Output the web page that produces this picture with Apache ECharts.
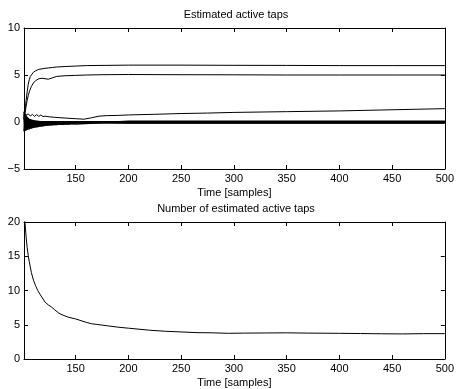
<!DOCTYPE html>
<html>
<head>
<meta charset="utf-8">
<script src="https://cdn.jsdelivr.net/npm/echarts@6/dist/echarts.min.js"></script>
<style>html,body{margin:0;padding:0;background:#fff;}#c{width:457px;height:389px;}</style>
</head>
<body>
<div id="c"></div>
<script>
// ---- tick labels ----
const xTicks = [150, 200, 250, 300, 350, 400, 450, 500];
const topTitle = 'Estimated active taps';
const bottomTitle = 'Number of estimated active taps';
const xName = 'Time [samples]';

// ---- top panel: estimated taps ----
const bigTapTimes = [101,102,103,104,105,106,107,108,110,112,115,118,120,124,128,132,140,150,160,175,200,250,300,350,400,450,500];
const tapSix  = [0.6,1.3,2.3,3.2,4.0,4.5,4.85,5.05,5.3,5.45,5.6,5.65,5.7,5.75,5.8,5.85,5.9,5.95,6.0,6.02,6.05,6.05,6.03,6.02,6.0,6.0,6.0];
const tapFive = [0.3,0.9,1.7,2.3,2.8,3.2,3.5,3.8,4.15,4.4,4.6,4.65,4.62,4.55,4.7,4.85,4.92,4.96,5.0,5.03,5.05,5.03,5.02,5.0,5.0,5.0,5.0];

const smallTapTimes = [101,103,105,107,109,111,113,115,117,119,121,125,130,140,150,158,165,172,180,190,200,225,250,275,300,350,400,450,500];
const tapOne = [0.85,0.75,0.85,0.65,0.8,0.6,0.78,0.6,0.75,0.58,0.62,0.55,0.5,0.42,0.35,0.3,0.45,0.62,0.68,0.7,0.75,0.82,0.9,0.95,1.02,1.1,1.18,1.3,1.42];

const oscTimes = [101,102,103,104,105,106,107,108,109,110,111,112,113,114,115,116,117,118,119,120,121,122,123,124,125,126,127,128,129,130,131,132,133,134,135,136,137,138,139,140,141,142,143,144,145,146,147,148,149,150,200,300,400,500];
const zeroTapA = [1.1,-0.95,0.7,-0.85,0.45,-0.78,0.3,-0.7,0.22,-0.64,0.18,-0.58,0.15,-0.54,0.12,-0.5,0.1,-0.46,0.1,-0.43,0.08,-0.4,0.08,-0.38,0.06,-0.36,0.06,-0.34,0.05,-0.32,0.05,-0.31,0.04,-0.3,0.04,-0.29,0.03,-0.28,0.03,-0.27,0.03,-0.26,0.02,-0.25,0.02,-0.24,0.02,-0.23,0.02,-0.22,0.07,0.07,0.07,0.07];
const zeroTapB = [-1.0,0.9,-0.9,0.55,-0.8,0.35,-0.72,0.25,-0.66,0.2,-0.6,0.15,-0.56,0.12,-0.52,0.1,-0.48,0.09,-0.45,0.08,-0.42,0.07,-0.39,0.06,-0.37,0.05,-0.35,0.05,-0.33,0.04,-0.32,0.04,-0.3,0.03,-0.29,0.03,-0.28,0.02,-0.27,0.02,-0.26,0.02,-0.25,0.01,-0.24,0.01,-0.23,0.01,-0.22,0.01,-0.1,-0.1,-0.1,-0.1];
const zeroTapC = [0.6,-0.7,0.4,-0.62,0.3,-0.55,0.2,-0.5,0.15,-0.46,0.12,-0.42,0.1,-0.4,0.08,-0.37,0.06,-0.35,0.05,-0.33,0.05,-0.31,0.04,-0.3,0.04,-0.28,0.03,-0.27,0.03,-0.26,0.02,-0.25,0.02,-0.24,0.01,-0.23,0.01,-0.22,0.0,-0.21,0.0,-0.2,0.0,-0.2,-0.01,-0.19,-0.01,-0.18,-0.02,-0.17,-0.04,-0.04,-0.04,-0.04];
const flatTimes = [101,150,200,300,400,500];
const zeroTapD = [0.02,0.02,0.02,0.02,0.02,0.02];
const zeroTapE = [-0.07,-0.07,-0.07,-0.07,-0.07,-0.07];

// ---- bottom panel: number of active taps ----
const numTimes = [101,102,103,104,105,106,108,110,112,114,116,118,121,124,127,130,134,138,143,150,155,160,165,170,180,190,200,210,220,235,250,265,280,295,310,330,350,370,400,420,440,460,480,500];
const numVals  = [20.8,19.8,17.8,16.3,15.1,14.2,12.6,11.5,10.7,10.0,9.5,9.0,8.3,7.9,7.6,7.2,6.7,6.4,6.1,5.85,5.6,5.35,5.15,5.05,4.85,4.65,4.5,4.35,4.2,4.05,3.95,3.85,3.82,3.75,3.78,3.8,3.82,3.78,3.75,3.72,3.68,3.66,3.7,3.7];

const zip = (t, v) => t.map((x, i) => [x, v[i]]);
const FONT = 'Liberation Sans, Arial, Helvetica, sans-serif';
const FS = 11;
const minus = v => String(v).replace('-', '\u2212');

function xAx(gi, pos) {
  const main = pos === 'bottom';
  return {
    type: 'value', gridIndex: gi, position: pos, min: 101, max: 500,
    axisLine: { show: true, onZero: false, lineStyle: { color: '#000', width: 1 } },
    axisTick: { show: true, inside: true, length: 4, customValues: xTicks, lineStyle: { color: '#000' } },
    axisLabel: { show: main, customValues: xTicks, margin: 4, color: '#000', fontSize: FS, fontFamily: FONT },
    splitLine: { show: false },
    name: main ? xName : '', nameLocation: 'middle', nameGap: 18,
    nameTextStyle: { color: '#000', fontSize: FS, fontFamily: FONT }
  };
}
function yAx(gi, pos, mn, mx) {
  const main = pos === 'left';
  return {
    type: 'value', gridIndex: gi, position: pos, min: mn, max: mx, interval: 5,
    axisLine: { show: true, onZero: false, lineStyle: { color: '#000', width: 1 } },
    axisTick: { show: true, inside: true, length: 4, lineStyle: { color: '#000' } },
    axisLabel: { show: main, margin: 4, color: '#000', fontSize: FS, fontFamily: FONT, formatter: minus },
    splitLine: { show: false }
  };
}
function ln(data, xi, yi, w) {
  return { type: 'line', data: data, xAxisIndex: xi, yAxisIndex: yi, symbol: 'none',
    lineStyle: { color: '#000', width: w || 1 }, animation: false, clip: true, silent: true };
}

const chart = echarts.init(document.getElementById('c'), null, { renderer: 'canvas' });
chart.setOption({
  backgroundColor: '#fff',
  animation: false,
  title: [
    { text: topTitle, left: 236, textAlign: 'center', top: 9, padding: 0,
      textStyle: { color: '#000', fontSize: FS, fontWeight: 'normal', fontFamily: FONT } },
    { text: bottomTitle, left: 236, textAlign: 'center', top: 203, padding: 0,
      textStyle: { color: '#000', fontSize: FS, fontWeight: 'normal', fontFamily: FONT } }
  ],
  grid: [
    { left: 24, right: 9, top: 28, height: 141 },
    { left: 24, right: 9, top: 222, height: 141 }
  ],
  xAxis: [xAx(0, 'bottom'), xAx(0, 'top'), xAx(1, 'bottom'), xAx(1, 'top')],
  yAxis: [yAx(0, 'left', -5, 10), yAx(0, 'right', -5, 10), yAx(1, 'left', 0, 20), yAx(1, 'right', 0, 20)],
  series: [
    ln(zip(oscTimes, zeroTapA), 0, 0, 1.5),
    ln(zip(oscTimes, zeroTapB), 0, 0, 1.5),
    ln(zip(oscTimes, zeroTapC), 0, 0, 1.5),
    ln(zip(flatTimes, zeroTapD), 0, 0, 1.5),
    ln(zip(flatTimes, zeroTapE), 0, 0, 1.5),
    ln(zip(smallTapTimes, tapOne), 0, 0),
    ln(zip(bigTapTimes, tapFive), 0, 0),
    ln(zip(bigTapTimes, tapSix), 0, 0),
    ln(zip(numTimes, numVals), 2, 2)
  ]
});
</script>
</body>
</html>
